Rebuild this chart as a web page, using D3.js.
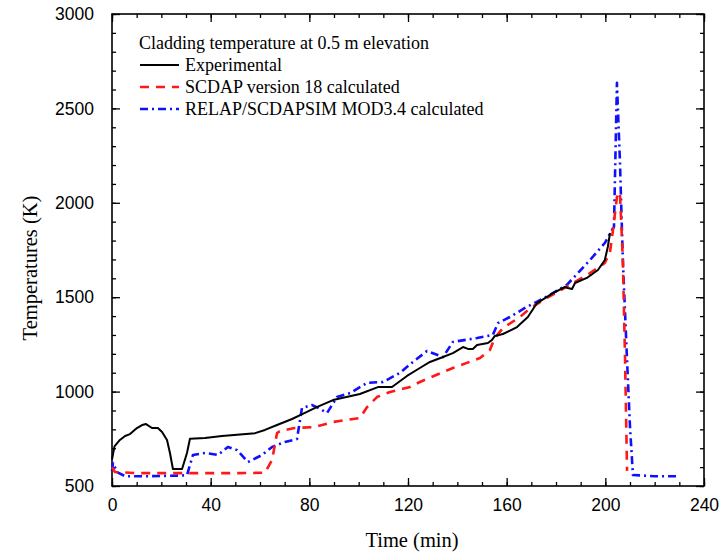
<!DOCTYPE html>
<html>
<head>
<meta charset="utf-8">
<script src="https://cdn.jsdelivr.net/npm/d3@7"></script>
<style>
  body { margin: 0; background: #fff; }
  svg { font-family: 'Liberation Serif', 'Times New Roman', serif; }
  .tick-label { font-size: 17.5px; fill: #000; }
  .axis-title { font-size: 20.5px; fill: #000; }
  .legend-text { font-size: 18px; fill: #000; }
</style>
</head>
<body>
<svg id="chart" width="722" height="553"></svg>
<script>
// Experimental (time min, temperature K)
const expTime = [0, 1, 3.2, 5.3, 7.3, 10.1, 12.2, 13.8, 16.2, 18.6, 20.3, 22.3, 23.5, 24.7, 28.4, 30.4, 31.6,
  37.7, 44.6, 58, 62, 66.9, 73, 78.2, 83, 89.6, 100.5, 107.8, 113.5, 119.6, 124.8, 128.9, 134.2, 138.2,
  142.3, 144.3, 146.3, 148, 152.4, 154, 155.2, 158.5, 164.2, 168.6, 172.3, 178.8, 183.6, 184.8, 186.5,
  187.7, 192.5, 197, 199.8, 201, 201.9];
const expTemp = [640, 710, 744, 765, 775, 807, 823, 828, 807, 807, 786, 744, 675, 590, 590, 675, 750,
  754, 765, 780, 797, 823, 855, 887, 918, 955, 987, 1024, 1024, 1083, 1125, 1157, 1183, 1204,
  1236, 1226, 1226, 1247, 1257, 1273, 1295, 1305, 1342, 1395, 1469, 1522, 1554, 1549, 1543,
  1575, 1602, 1644, 1697, 1766, 1840];

// SCDAP version 18 calculated
const scdapTime = [0, 1.2, 10, 30, 50, 62, 64.9, 66.9, 68, 74, 82, 89.6, 100.5, 103.4, 107.4, 112.7,
  120.8, 124.8, 138.2, 149.2, 153.2, 155, 158.5, 165.4, 169.4, 176.3, 185.6, 193.8, 199.8, 201.9,
  203.1, 204.7, 205.9, 207.1, 208, 208.8];
const scdapTemp = [600, 574, 568, 568, 568, 570, 638, 780, 790, 807, 812, 839, 860, 918, 971, 998,
  1024, 1051, 1125, 1178, 1220, 1280, 1337, 1395, 1440, 1496, 1565, 1628, 1681, 1740,
  1856, 2031, 2057, 1697, 1167, 580];

// RELAP/SCDAPSIM MOD3.4 calculated
const relapTime = [0, 0.4, 2, 5.3, 15, 28, 30.4, 32.8, 37.7, 43, 47, 50.7, 55.1, 60.8, 64.9, 70.1, 75,
  77, 81, 83, 87.2, 91.2, 96.5, 103.4, 109.9, 116.7, 122, 127.7, 134.2, 138.2, 148, 154.4, 156.5,
  161.3, 167.4, 177.5, 184.4, 193.8, 199.8, 202.7, 203.5, 204.7, 205.9, 207.1, 208.8, 210, 211.2,
  220, 230.2];
const relapTemp = [580, 622, 574, 552, 552, 555, 558, 664, 675, 664, 707, 690, 627, 664, 707, 733, 749,
  913, 929, 918, 887, 971, 992, 1046, 1051, 1099, 1157, 1215, 1183, 1263, 1284, 1300, 1363,
  1395, 1443, 1512, 1565, 1697, 1787, 1856, 1872, 2635, 2227, 1697, 1167, 813, 558,
  552, 552];

const xTicks = [0, 40, 80, 120, 160, 200, 240];
const yTicks = [500, 1000, 1500, 2000, 2500, 3000];
const legendTitle = 'Cladding temperature at 0.5 m elevation';
const legendLabels = ['Experimental', 'SCDAP version 18 calculated', 'RELAP/SCDAPSIM MOD3.4 calculated'];

const margin = { left: 112, right: 18, top: 14, bottom: 67 };
const width = 722 - margin.left - margin.right;
const height = 553 - margin.top - margin.bottom;

const svg = d3.select('#chart');
const g = svg.append('g').attr('transform', 'translate(' + margin.left + ',' + margin.top + ')');

const xScale = d3.scaleLinear().domain([0, 240]).range([0, width]);
const yScale = d3.scaleLinear().domain([500, 3000]).range([height, 0]);

function addAxes() {
  const xMinor = d3.range(0, 241, 10);
  const yMinor = d3.range(500, 3001, 100);

  // ticks on all four sides, pointing inside; labels only bottom/left
  const axes = [
    { axis: d3.axisBottom, t: 'translate(0,' + height + ')', scale: xScale, minor: xMinor, major: xTicks, labels: true, pad: 13 },
    { axis: d3.axisTop, t: 'translate(0,0)', scale: xScale, minor: xMinor, major: xTicks, labels: false, pad: 0 },
    { axis: d3.axisLeft, t: 'translate(0,0)', scale: yScale, minor: yMinor, major: yTicks, labels: true, pad: 18 },
    { axis: d3.axisRight, t: 'translate(' + width + ',0)', scale: yScale, minor: yMinor, major: yTicks, labels: false, pad: 0 },
  ];
  axes.forEach((a) => {
    const minorG = g.append('g').attr('transform', a.t)
      .call(a.axis(a.scale).tickValues(a.minor).tickSizeInner(-4).tickSizeOuter(0).tickFormat(''));
    minorG.select('.domain').remove();
    const majorG = g.append('g').attr('transform', a.t)
      .call(a.axis(a.scale).tickValues(a.major).tickSizeInner(-8).tickSizeOuter(0)
        .tickPadding(a.pad).tickFormat(a.labels ? d3.format('d') : ''));
    majorG.select('.domain').remove();
    majorG.selectAll('text').attr('class', 'tick-label').attr('font-size', null).attr('font-family', null);
    [minorG, majorG].forEach((s) => s.selectAll('line').attr('stroke', '#000').attr('stroke-width', 1.3));
  });

  g.append('rect')
    .attr('width', width)
    .attr('height', height)
    .attr('fill', 'none')
    .attr('stroke', '#000')
    .attr('stroke-width', 1.6);
}

function addLabels() {
  svg.append('text')
    .attr('class', 'axis-title')
    .attr('text-anchor', 'middle')
    .attr('transform', 'translate(37,268) rotate(-90)')
    .text('Temperatures (K)');
  svg.append('text')
    .attr('class', 'axis-title')
    .attr('text-anchor', 'middle')
    .attr('x', 412)
    .attr('y', 547)
    .text('Time (min)');
}

function drawLine(times, temps, color, widthPx, dash) {
  const pts = times.map((t, i) => [t, temps[i]]);
  g.append('path')
    .datum(pts)
    .attr('fill', 'none')
    .attr('stroke', color)
    .attr('stroke-width', widthPx)
    .attr('stroke-dasharray', dash)
    .attr('stroke-linejoin', 'round')
    .attr('d', d3.line().x((d) => xScale(d[0])).y((d) => yScale(d[1])));
}

addAxes();
addLabels();

drawLine(relapTime, relapTemp, '#1010ff', 2.6, '8,4,2,4');
drawLine(scdapTime, scdapTemp, '#ff1818', 2.6, '9,7');
drawLine(expTime, expTemp, '#000', 2, null);

// Legend
const legend = svg.append('g').attr('transform', 'translate(139,49)');
legend.append('text').attr('class', 'legend-text').text(legendTitle);
const styles = [
  { color: '#000', w: 2, dash: null },
  { color: '#ff1818', w: 2.6, dash: '9,7' },
  { color: '#1010ff', w: 2.6, dash: '8,4,2,4' },
];
legendLabels.forEach((label, i) => {
  const y = 22 * (i + 1);
  legend.append('line')
    .attr('x1', 1).attr('x2', 40)
    .attr('y1', y - 6).attr('y2', y - 6)
    .attr('stroke', styles[i].color)
    .attr('stroke-width', styles[i].w)
    .attr('stroke-dasharray', styles[i].dash);
  legend.append('text').attr('class', 'legend-text').attr('x', 46).attr('y', y).text(label);
});
</script>
</body>
</html>
